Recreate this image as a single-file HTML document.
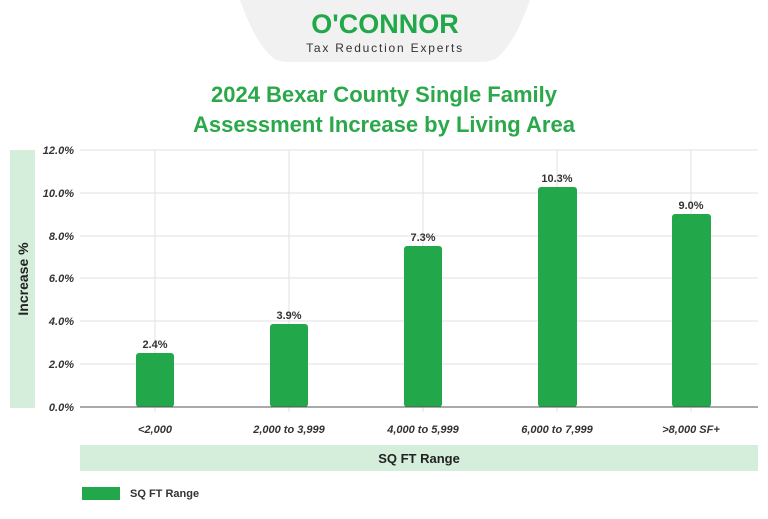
<!DOCTYPE html>
<html><head><style>
body{margin:0;background:#fff;width:768px;height:514px;overflow:hidden;font-family:"Liberation Sans",sans-serif}
</style></head><body>
<svg width="768" height="514" xmlns="http://www.w3.org/2000/svg" font-family="Liberation Sans, sans-serif">
<rect width="768" height="514" fill="#fff"/>
<path d="M240 0 H530 Q516 40 500 55 Q495 62 480 62 H290 Q275 62 270 55 Q254 40 240 0Z" fill="#f1f1f1"/>
<text x="385" y="33" text-anchor="middle" font-size="27" font-weight="bold" fill="#22a84a">O'CONNOR</text>
<text x="385" y="52" text-anchor="middle" font-size="12" fill="#333" letter-spacing="1.8">Tax Reduction Experts</text>
<text x="384" y="102" text-anchor="middle" font-size="22" font-weight="bold" fill="#2aa84a">2024 Bexar County Single Family</text>
<text x="384" y="132" text-anchor="middle" font-size="22" font-weight="bold" fill="#2aa84a">Assessment Increase by Living Area</text>
<rect x="10" y="150" width="25" height="258" fill="#d5eedc"/>
<text transform="translate(28,279) rotate(-90)" text-anchor="middle" font-size="14" font-weight="bold" fill="#222">Increase %</text>
<g stroke="#e2e2e2" stroke-width="1">
<line x1="80" x2="758" y1="150" y2="150"/><line x1="80" x2="758" y1="193" y2="193"/>
<line x1="80" x2="758" y1="236" y2="236"/><line x1="80" x2="758" y1="278" y2="278"/>
<line x1="80" x2="758" y1="321" y2="321"/><line x1="80" x2="758" y1="364" y2="364"/>
<line x1="155" x2="155" y1="150" y2="412"/><line x1="289" x2="289" y1="150" y2="412"/>
<line x1="423" x2="423" y1="150" y2="412"/><line x1="557" x2="557" y1="150" y2="412"/>
<line x1="691" x2="691" y1="150" y2="412"/>
</g>
<g font-size="11" font-style="italic" font-weight="bold" fill="#333" text-anchor="end">
<text x="74" y="154">12.0%</text><text x="74" y="197">10.0%</text><text x="74" y="240">8.0%</text>
<text x="74" y="282">6.0%</text><text x="74" y="325">4.0%</text><text x="74" y="368">2.0%</text><text x="74" y="411">0.0%</text>
</g>
<g fill="#22a84a">
<rect x="136" y="353" width="38" height="54" rx="3"/>
<rect x="270" y="324" width="38" height="83" rx="3"/>
<rect x="404" y="246" width="38" height="161" rx="3"/>
<rect x="538" y="187" width="39" height="220" rx="3"/>
<rect x="672" y="214" width="39" height="193" rx="3"/>
</g>
<line x1="80" x2="758" y1="407" y2="407" stroke="#555" stroke-width="1"/>
<g font-size="11" font-weight="bold" fill="#333" text-anchor="middle">
<text x="155" y="348">2.4%</text><text x="289" y="319">3.9%</text><text x="423" y="241">7.3%</text>
<text x="557" y="182">10.3%</text><text x="691" y="209">9.0%</text>
</g>
<g font-size="11" font-style="italic" font-weight="bold" fill="#333" text-anchor="middle">
<text x="155" y="433">&lt;2,000</text><text x="289" y="433">2,000 to 3,999</text><text x="423" y="433">4,000 to 5,999</text>
<text x="557" y="433">6,000 to 7,999</text><text x="691" y="433">&gt;8,000 SF+</text>
</g>
<rect x="80" y="445" width="678" height="26" fill="#d5eedc"/>
<text x="419" y="463" text-anchor="middle" font-size="13" font-weight="bold" fill="#222">SQ FT Range</text>
<rect x="82" y="487" width="38" height="13" fill="#22a84a"/>
<text x="130" y="497" font-size="11" font-weight="bold" fill="#333">SQ FT Range</text>
</svg>
</body></html>
